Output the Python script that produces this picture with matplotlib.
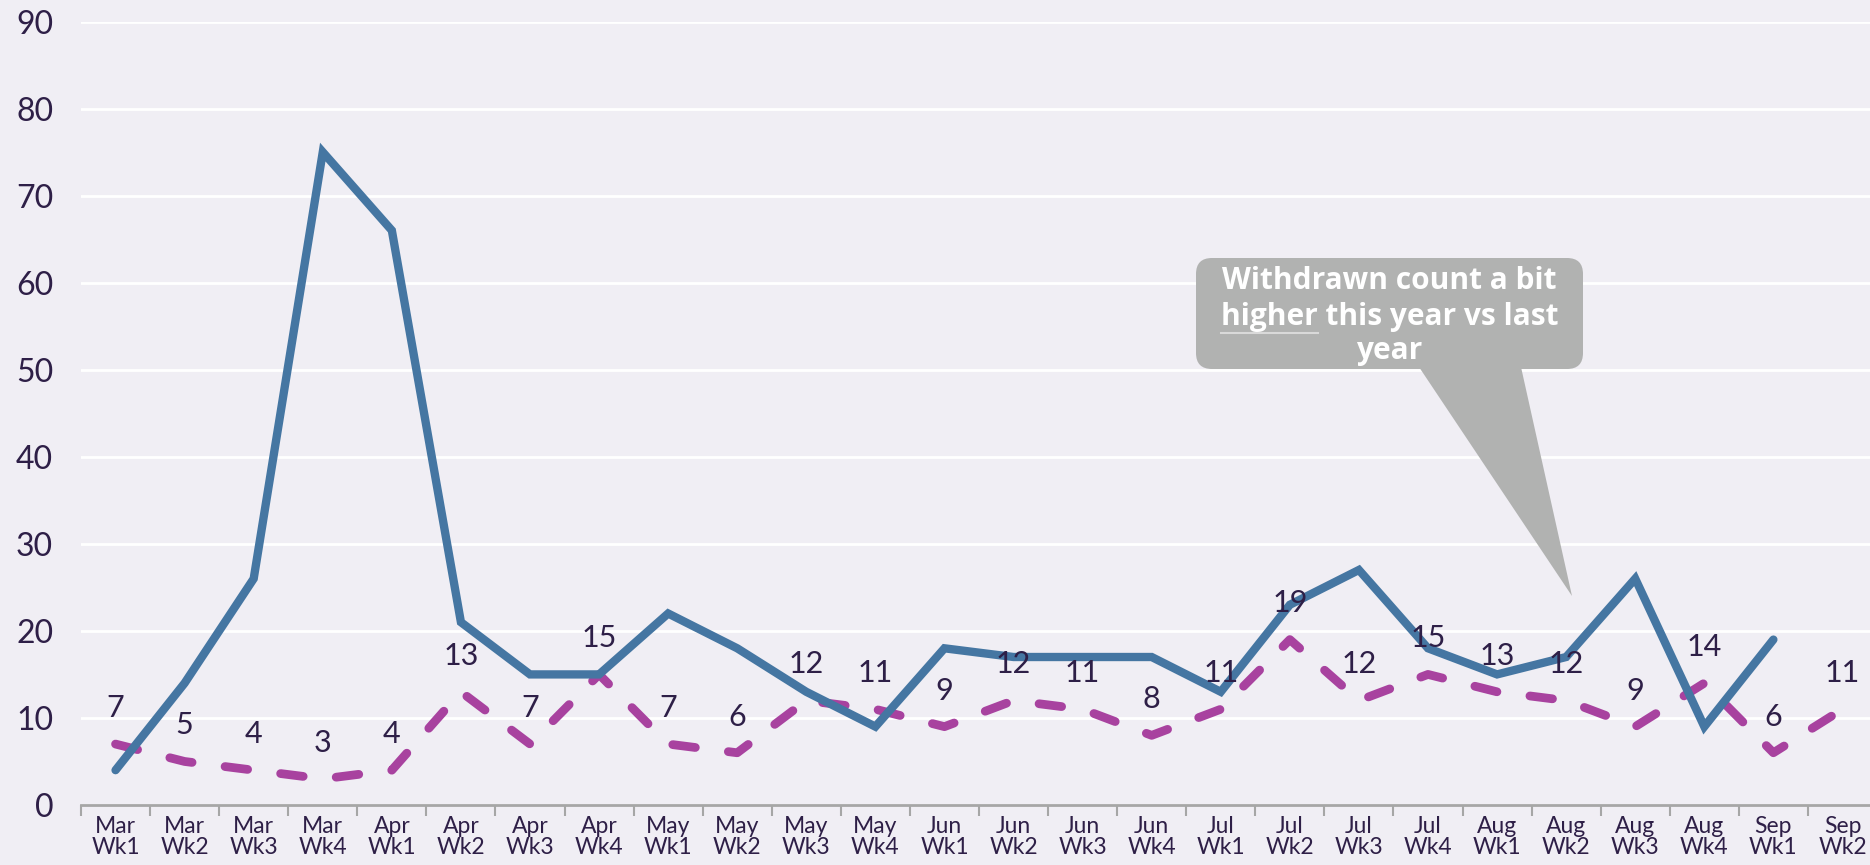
import numpy as np
import matplotlib
matplotlib.use('Agg')
import matplotlib.pyplot as plt
from matplotlib.patches import FancyBboxPatch, Polygon

weeks = ['Mar\nWk1', 'Mar\nWk2', 'Mar\nWk3', 'Mar\nWk4', 'Apr\nWk1', 'Apr\nWk2',
         'Apr\nWk3', 'Apr\nWk4', 'May\nWk1', 'May\nWk2', 'May\nWk3', 'May\nWk4',
         'Jun\nWk1', 'Jun\nWk2', 'Jun\nWk3', 'Jun\nWk4', 'Jul\nWk1', 'Jul\nWk2',
         'Jul\nWk3', 'Jul\nWk4', 'Aug\nWk1', 'Aug\nWk2', 'Aug\nWk3', 'Aug\nWk4',
         'Sep\nWk1', 'Sep\nWk2']
this_year = [4, 14, 26, 75, 66, 21, 15, 15, 22, 18, 13, 9, 18, 17, 17, 17, 13,
             23, 27, 18, 15, 17, 26, 9, 19]
last_year = [7, 5, 4, 3, 4, 13, 7, 15, 7, 6, 12, 11, 9, 12, 11, 8, 11, 19, 12,
             15, 13, 12, 9, 14, 6, 11]
y_ticks = list(range(0, 91, 10))

BLUE = '#4576a2'
MAGENTA = '#a8429f'
TEXT = '#2e1f47'
GREY = '#b1b2b1'

plt.rcParams['font.family'] = ['Lato', 'DejaVu Sans']

W, H = 1870, 865
fig = plt.figure(figsize=(W / 100, H / 100), dpi=100)
fig.patch.set_facecolor('#f0eef4')

ax = fig.add_axes([81 / W, 60 / H, 1796 / W, 783.5 / H])
ax.set_facecolor('none')
ax.set_xlim(-0.5, len(weeks) - 0.5)
ax.set_ylim(0, 90)

x_last = np.arange(len(last_year))
x_this = np.arange(len(this_year))
ax.plot(x_last, last_year, color=MAGENTA, lw=6.3, dashes=(2.6, 3.8),
        dash_capstyle='round', solid_capstyle='round', zorder=3)
ax.plot(x_this, this_year, color=BLUE, lw=6, solid_joinstyle='miter',
        solid_capstyle='round', zorder=4)

for i, v in enumerate(last_year):
    ax.annotate(str(v), (i, v), xytext=(0, 26), textcoords='offset points',
                ha='center', va='center', fontsize=22, color=TEXT, zorder=5)

ax.set_yticks(y_ticks)
ax.yaxis.grid(True, color='white', lw=2)
ax.set_axisbelow(True)
ax.tick_params(axis='y', length=0, pad=20, labelsize=23, labelcolor=TEXT)

ax.set_xticks(np.arange(len(weeks)))
ax.set_xticklabels(weeks, linespacing=1.0)
ax.set_xticks(np.arange(-0.5, len(weeks), 1), minor=True)
ax.tick_params(axis='x', which='major', length=0, pad=8, labelsize=16.5,
               labelcolor=TEXT)
ax.tick_params(axis='x', which='minor', length=8, width=1.5, color='#a6a6a6')

for side in ['left', 'right', 'top']:
    ax.spines[side].set_visible(False)
ax.spines['bottom'].set_color('#a6a6a6')
ax.spines['bottom'].set_linewidth(2)

# callout in pixel coordinates
ov = fig.add_axes([0, 0, 1, 1], zorder=10)
ov.set_xlim(0, W)
ov.set_ylim(H, 0)
ov.axis('off')
r = 16
ov.add_patch(FancyBboxPatch((1196 + r, 258 + r), 387 - 2 * r, 111 - 2 * r,
                            boxstyle='round,pad=%d' % r, fc=GREY, ec='none'))
ov.add_patch(Polygon([(1419, 367), (1521, 367), (1572, 596)], closed=True,
                     fc=GREY, ec='none'))

cx = 1389.5
font = dict(fontsize=21.5, fontweight='bold', color='white', ha='center',
            va='center', family=['Open Sans', 'DejaVu Sans'])
ov.text(cx, 281, 'Withdrawn count a bit', **font)
line2 = ov.text(cx, 317, 'higher this year vs last', **font)
ov.text(cx, 351, 'year', **font)

fig.canvas.draw()
renderer = fig.canvas.get_renderer()
bb = line2.get_window_extent(renderer)
probe = ov.text(0, 0, 'higher', **font)
pw = probe.get_window_extent(renderer).width
probe.remove()
x0 = bb.x0
ov.plot([x0, x0 + pw], [333, 333], color='#d9d9d9', lw=1.5)

fig.savefig('out.png', dpi=100, facecolor=fig.get_facecolor())
